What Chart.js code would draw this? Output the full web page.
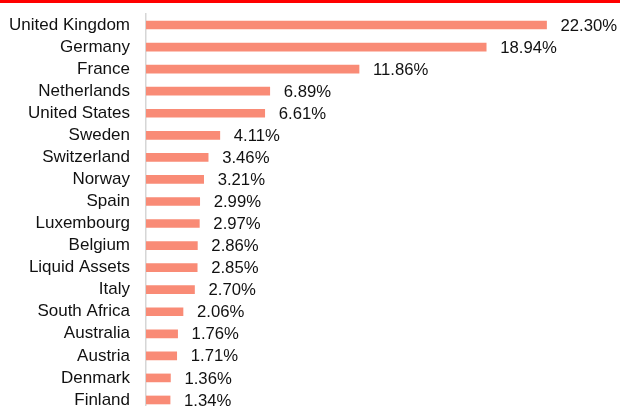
<!DOCTYPE html>
<html>
<head>
<meta charset="utf-8">
<script src="https://cdn.jsdelivr.net/npm/chart.js@4/dist/chart.umd.min.js"></script>
<style>
  html, body { margin: 0; padding: 0; background: #fff; overflow: hidden; }
  #wrap { position: relative; width: 620px; height: 406px; overflow: hidden; }
  #topline { position: absolute; left: 0; top: 0; width: 620px; height: 3px; background: #ff0000; z-index: 2; }
  #c { position: absolute; left: 0; top: 0; }
</style>
</head>
<body>
<div id="wrap">
  <div id="topline"></div>
  <canvas id="c" width="620" height="411"></canvas>
</div>
<script>
const categories = ["United Kingdom", "Germany", "France", "Netherlands", "United States", "Sweden", "Switzerland", "Norway", "Spain", "Luxembourg", "Belgium", "Liquid Assets", "Italy", "South Africa", "Australia", "Austria", "Denmark", "Finland"];
const weights = [22.30, 18.94, 11.86, 6.89, 6.61, 4.11, 3.46, 3.21, 2.99, 2.97, 2.86, 2.85, 2.70, 2.06, 1.76, 1.71, 1.36, 1.34];

const FONT = "'Liberation Sans', Arial, Helvetica, sans-serif";

const valueLabels = {
  id: 'valueLabels',
  afterDatasetsDraw(chart) {
    const ctx = chart.ctx;
    const meta = chart.getDatasetMeta(0);
    ctx.save();
    ctx.font = '16.7px ' + FONT;
    ctx.fillStyle = '#111111';
    ctx.textAlign = 'left';
    ctx.textBaseline = 'middle';
    meta.data.forEach((bar, i) => {
      ctx.fillText(weights[i].toFixed(2) + '%', bar.x + 14, bar.y + 1);
    });
    ctx.restore();
  }
};

new Chart(document.getElementById('c'), {
  type: 'bar',
  data: {
    labels: categories,
    datasets: [{
      data: weights,
      backgroundColor: '#f98b76',
      borderWidth: 0,
      barThickness: 8
    }]
  },
  options: {
    indexAxis: 'y',
    responsive: false,
    animation: false,
    devicePixelRatio: 1,
    layout: { padding: { top: 14, right: 7, bottom: 0, left: 0 } },
    plugins: { legend: { display: false }, tooltip: { enabled: false } },
    scales: {
      x: {
        display: false,
        min: 0,
        max: 26
      },
      y: {
        afterFit(scale) {
          scale.width = 146;
          scale.paddingTop = 0;
          scale.paddingBottom = 0;
        },
        grid: { display: false, drawTicks: false },
        border: { display: true, color: '#d6d6d6', width: 1.5 },
        ticks: {
          autoSkip: false,
          color: '#111111',
          padding: 16,
          font: { family: FONT, size: 17 }
        }
      }
    }
  },
  plugins: [valueLabels]
});
</script>
</body>
</html>
